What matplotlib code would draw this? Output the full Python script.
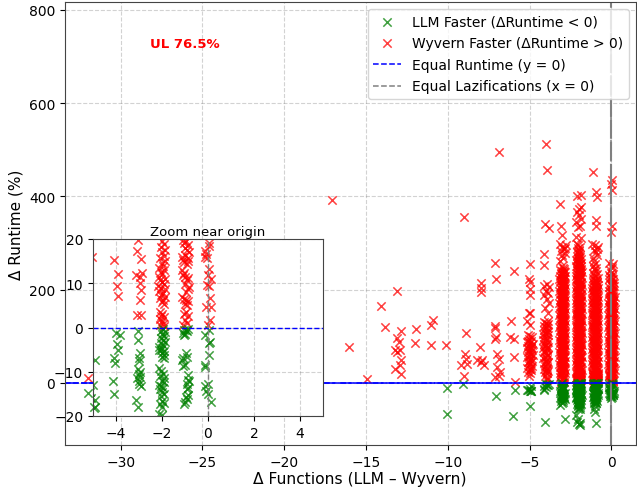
#!/usr/bin/env python3
"""
Delta runtime vs delta functions scatter, with a zoom inset near the origin
"""

import matplotlib
matplotlib.use("Agg")
import matplotlib.pyplot as plt

# (delta functions with jitter, delta runtime %)
red_sparse = [
    (-32.0, 11), (-17.1, 393), (-16.06, 77), (-14.96, 8), (-14.08, 166), (-13.84, 119),
    (-13.1, 198), (-12.86, 111), (-13.1, 96), (-13.0, 88), (-13.2, 70), (-12.95, 70),
    (-13.1, 66), (-12.86, 49), (-12.95, 38), (-13.2, 29), (-12.86, 20), (-11.94, 115),
    (-12.0, 86), (-11.04, 124), (-10.9, 136), (-11.04, 81), (-10.1, 81), (-8.9, 107),
    (-8.94, 62), (-8.9, 52), (-9.2, 38), (-8.84, 41), (-9.04, 16), (-9.04, 357),
    (-7.96, 215), (-7.96, 204), (-8.0, 195), (-8.02, 77), (-8.2, 49), (-8.0, 45),
    (-7.8, 39), (-7.9, 49), (-7.14, 258), (-7.06, 222), (-6.9, 495), (-7.1, 122),
    (-7.14, 118), (-7.04, 99), (-7.14, 95), (-7.0, 63), (-6.9, 52), (-7.0, 34),
    (-6.8, 24), (-7.1, 13), (-6.9, 16), (-5.94, 240), (-6.14, 133), (-6.18, 99),
    (-5.98, 95), (-5.98, 56), (-5.88, 2), (-4.0, 512), (-3.94, 456), (-4.04, 342),
    (-3.84, 332), (-4.1, 277), (-4.14, 252),
]
red_col5 = [
    (-5.0, 256), (-5.06, 222), (-4.96, 217), (-5.0, 202), (-4.96, 188), (-5.06, 151),
    (-4.96, 149), (-5.16, 133), (-4.96, 124), (-5.13, 102), (-4.97, 100), (-4.84, 98),
    (-5.06, 94), (-4.9, 91), (-5.16, 88), (-5.0, 86), (-4.82, 84), (-5.1, 80),
    (-4.93, 78), (-5.18, 75), (-5.03, 72), (-4.86, 70), (-5.12, 66), (-4.95, 64),
    (-4.82, 61), (-5.06, 58), (-5.16, 55), (-4.9, 53), (-5.0, 49), (-4.84, 47),
    (-5.13, 44), (-4.97, 42), (-5.06, 38), (-4.88, 36), (-5.14, 33), (-5.0, 30),
    (-4.92, 27), (-5.08, 24), (-4.97, 21), (-5.03, 16), (-4.93, 33), (-5.05, 47),
    (-4.92, 60), (-5.01, 68), (-4.91, 74), (-5.08, 90), (-4.88, 82),
]
red_col4 = [
    (-3.95, 213), (-4.1, 208), (-3.82, 205), (-3.98, 198), (-3.85, 192), (-4.12, 188),
    (-3.95, 180), (-3.82, 172), (-4.05, 160), (-3.9, 150), (-4.1, 131), (-3.9, 133),
    (-4.0, 128), (-3.86, 126), (-4.14, 122), (-4.03, 120), (-3.92, 118), (-4.1, 114),
    (-3.97, 112), (-3.85, 110), (-4.16, 106), (-4.03, 104), (-3.9, 102), (-4.1, 98),
    (-3.97, 96), (-4.18, 92), (-4.05, 90), (-3.87, 88), (-4.12, 84), (-3.99, 82),
    (-3.86, 78), (-4.16, 76), (-4.03, 74), (-3.92, 70), (-4.13, 66), (-3.99, 64),
    (-3.87, 60), (-4.08, 56), (-4.18, 54), (-3.95, 52), (-4.03, 48), (-3.88, 45),
    (-4.12, 42), (-3.97, 40), (-4.06, 36), (-3.92, 33), (-4.14, 31), (-4.0, 28),
    (-3.88, 25), (-4.08, 23), (-3.97, 21), (-4.07, 15.3), (-3.93, 12.1), (-3.96, 9.4),
    (-3.93, 7.2), (-3.95, 124), (-4.06, 108), (-3.94, 92), (-4.06, 80), (-3.94, 76),
    (-4.06, 68), (-3.92, 57), (-4.0, 44), (-3.95, 28),
]
red_col3 = [
    (-3.06, 19.8), (-3.09, 17.4), (-2.91, 15.4), (-3.12, 11.9), (-2.88, 12.3), (-2.96, 11.5),
    (-2.96, 10), (-2.92, 8.5), (-2.94, 6.2), (-3.09, 2.8), (-2.9, 2.8),
    (-3.16, 21), (-3.01, 23), (-2.84, 22), (-3.08, 27), (-2.92, 29), (-2.81, 28),
    (-3.13, 34), (-2.97, 36), (-2.88, 35), (-3.19, 41), (-3.04, 43), (-2.9, 42),
    (-3.16, 47), (-3.01, 49), (-2.84, 48), (-3.08, 54), (-2.92, 56), (-2.81, 55),
    (-3.13, 60), (-2.97, 62), (-2.88, 61), (-3.19, 67), (-3.04, 69), (-2.9, 68),
    (-3.16, 73), (-3.01, 75), (-2.84, 74), (-3.08, 80), (-2.92, 82), (-2.81, 81),
    (-3.13, 86), (-2.97, 88), (-2.88, 87), (-3.19, 93), (-3.04, 95), (-2.9, 94),
    (-3.16, 99), (-3.01, 101), (-2.84, 100), (-3.08, 106), (-2.92, 108), (-2.81, 107),
    (-3.13, 112), (-2.97, 114), (-2.88, 113), (-3.19, 119), (-3.04, 121), (-2.9, 120),
    (-3.16, 125), (-3.01, 127), (-2.84, 126), (-3.08, 132), (-2.92, 134), (-2.81, 133),
    (-3.13, 138), (-2.97, 140), (-2.88, 139), (-3.19, 145), (-3.04, 147), (-2.9, 146),
    (-3.16, 151), (-3.01, 153), (-2.84, 152), (-3.08, 158), (-2.92, 160), (-2.81, 159),
    (-3.13, 164), (-2.97, 166), (-2.88, 165), (-3.19, 171), (-3.04, 173), (-2.9, 172),
    (-3.16, 177), (-3.01, 179), (-2.84, 178), (-3.08, 184), (-2.92, 186), (-2.81, 185),
    (-3.13, 190), (-2.97, 192), (-2.88, 191), (-3.19, 197), (-3.04, 199), (-2.9, 198),
    (-3.16, 203), (-3.01, 205), (-2.84, 204), (-3.08, 210), (-2.92, 212), (-2.81, 211),
    (-3.13, 216), (-2.97, 218), (-2.88, 217), (-3.19, 223), (-3.04, 225), (-2.9, 224),
    (-3.16, 229), (-3.01, 231), (-2.84, 230), (-3.08, 236), (-2.92, 238), (-2.81, 237),
    (-3.13, 243), (-2.97, 246), (-2.88, 244), (-3.15, 262), (-2.95, 268), (-3.05, 275),
    (-2.82, 278), (-3.1, 283), (-2.9, 287), (-3.0, 292), (-2.8, 295), (-3.15, 298),
    (-2.85, 290), (-3.0, 317), (-3.1, 337), (-3.12, 383),
]
red_fill3 = [
    (-3.1, 24), (-2.94, 25), (-3.04, 31), (-2.9, 32), (-3.1, 38), (-2.96, 39),
    (-3.05, 44), (-2.88, 45), (-3.1, 51), (-2.95, 52), (-3.04, 57), (-2.89, 58),
    (-3.1, 64), (-2.96, 65), (-3.05, 70), (-2.88, 71), (-3.1, 77), (-2.95, 78),
    (-3.04, 83), (-2.89, 84), (-3.1, 90), (-2.96, 91), (-3.05, 96), (-2.88, 97),
    (-3.1, 103), (-2.95, 104), (-3.04, 109), (-2.89, 110), (-3.1, 116), (-2.96, 117),
    (-3.05, 122), (-2.88, 123), (-3.1, 129), (-2.95, 130), (-3.04, 135), (-2.89, 136),
    (-3.1, 142), (-2.96, 143), (-3.05, 148), (-2.88, 149), (-3.1, 155), (-2.95, 156),
    (-3.04, 161), (-2.89, 162), (-3.1, 168), (-2.96, 169), (-3.05, 174), (-2.88, 175),
    (-3.1, 181), (-2.95, 182), (-3.04, 187), (-2.89, 188), (-3.1, 194), (-2.96, 195),
    (-3.05, 200), (-2.88, 201), (-3.1, 207), (-2.95, 208), (-3.04, 213), (-2.89, 214),
    (-3.1, 220), (-2.96, 221), (-3.05, 226), (-2.88, 227), (-3.1, 233), (-2.95, 234),
    (-3.04, 240), (-2.93, 241), (-3.0, 251),
]
red_col2 = [
    (-2.0, 19.6), (-1.9, 18.9), (-2.03, 18.2), (-1.85, 17.5), (-2.0, 17), (-1.93, 16.2),
    (-2.1, 15.6), (-1.88, 15), (-2.02, 14.5), (-1.95, 14), (-2.12, 13.4), (-1.9, 13),
    (-2.05, 12.5), (-1.98, 12), (-2.15, 11.5), (-1.85, 11), (-2.08, 10.7), (-2.0, 10.2),
    (-1.92, 9.8), (-2.17, 9.4), (-2.05, 9), (-1.88, 8.6), (-2.12, 8.2), (-1.97, 7.8),
    (-2.03, 7.4), (-1.85, 7), (-2.1, 6.6), (-1.95, 6.2), (-2.0, 5.7), (-1.9, 5.2),
    (-2.08, 3.4), (-1.98, 3.1), (-2.05, 2.6), (-1.93, 2.4), (-2.1, 2.0), (-2.0, 1.4),
    (-1.95, 0.9), (-2.08, 0.5), (-1.9, 0.3),
    (-2.16, 21), (-2.01, 23), (-1.84, 22), (-2.08, 27), (-1.92, 29), (-1.81, 28),
    (-2.13, 34), (-1.97, 36), (-1.88, 35), (-2.19, 41), (-2.04, 43), (-1.9, 42),
    (-2.16, 47), (-2.01, 49), (-1.84, 48), (-2.08, 54), (-1.92, 56), (-1.81, 55),
    (-2.13, 60), (-1.97, 62), (-1.88, 61), (-2.19, 67), (-2.04, 69), (-1.9, 68),
    (-2.16, 73), (-2.01, 75), (-1.84, 74), (-2.08, 80), (-1.92, 82), (-1.81, 81),
    (-2.13, 86), (-1.97, 88), (-1.88, 87), (-2.19, 93), (-2.04, 95), (-1.9, 94),
    (-2.16, 99), (-2.01, 101), (-1.84, 100), (-2.08, 106), (-1.92, 108), (-1.81, 107),
    (-2.13, 112), (-1.97, 114), (-1.88, 113), (-2.19, 119), (-2.04, 121), (-1.9, 120),
    (-2.16, 125), (-2.01, 127), (-1.84, 126), (-2.08, 132), (-1.92, 134), (-1.81, 133),
    (-2.13, 138), (-1.97, 140), (-1.88, 139), (-2.19, 145), (-2.04, 147), (-1.9, 146),
    (-2.16, 151), (-2.01, 153), (-1.84, 152), (-2.08, 158), (-1.92, 160), (-1.81, 159),
    (-2.13, 164), (-1.97, 166), (-1.88, 165), (-2.19, 171), (-2.04, 173), (-1.9, 172),
    (-2.16, 177), (-2.01, 179), (-1.84, 178), (-2.08, 184), (-1.92, 186), (-1.81, 185),
    (-2.13, 190), (-1.97, 192), (-1.88, 191), (-2.19, 197), (-2.04, 199), (-1.9, 198),
    (-2.16, 203), (-2.01, 205), (-1.84, 204), (-2.08, 210), (-1.92, 212), (-1.81, 211),
    (-2.13, 216), (-1.97, 218), (-1.88, 217), (-2.19, 223), (-2.04, 225), (-1.9, 224),
    (-2.16, 229), (-2.01, 231), (-1.84, 230), (-2.08, 236), (-1.92, 238), (-1.81, 237),
    (-2.13, 243), (-1.97, 245), (-1.88, 244), (-2.15, 250), (-2.0, 252), (-1.84, 251),
    (-2.12, 257), (-1.96, 259), (-1.86, 258), (-2.15, 264), (-2.02, 266), (-1.88, 265),
    (-2.08, 272), (-1.94, 274), (-2.12, 280), (-1.96, 282), (-2.06, 290), (-1.9, 292),
    (-2.08, 299), (-2.14, 313), (-1.86, 310), (-2.16, 345), (-1.9, 337), (-2.06, 335),
    (-1.84, 352), (-1.96, 360), (-2.1, 367), (-1.86, 377), (-1.98, 374), (-2.1, 401),
    (-1.84, 404),
]
red_fill2 = [
    (-2.1, 24), (-1.94, 25), (-2.04, 31), (-1.9, 32), (-2.1, 38), (-1.96, 39),
    (-2.05, 44), (-1.88, 45), (-2.1, 51), (-1.95, 52), (-2.04, 57), (-1.89, 58),
    (-2.1, 64), (-1.96, 65), (-2.05, 70), (-1.88, 71), (-2.1, 77), (-1.95, 78),
    (-2.04, 83), (-1.89, 84), (-2.1, 90), (-1.96, 91), (-2.05, 96), (-1.88, 97),
    (-2.1, 103), (-1.95, 104), (-2.04, 109), (-1.89, 110), (-2.1, 116), (-1.96, 117),
    (-2.05, 122), (-1.88, 123), (-2.1, 129), (-1.95, 130), (-2.04, 135), (-1.89, 136),
    (-2.1, 142), (-1.96, 143), (-2.05, 148), (-1.88, 149), (-2.1, 155), (-1.95, 156),
    (-2.04, 161), (-1.89, 162), (-2.1, 168), (-1.96, 169), (-2.05, 174), (-1.88, 175),
    (-2.1, 181), (-1.95, 182), (-2.04, 187), (-1.89, 188), (-2.1, 194), (-1.96, 195),
    (-2.05, 200), (-1.88, 201), (-2.1, 207), (-1.95, 208), (-2.04, 213), (-1.89, 214),
    (-2.1, 220), (-1.96, 221), (-2.05, 226), (-1.88, 227), (-2.1, 233), (-1.95, 234),
    (-2.04, 240), (-1.9, 241), (-2.08, 247), (-1.94, 248), (-2.03, 254), (-1.9, 255),
    (-2.08, 261), (-1.96, 262), (-2.03, 269), (-1.93, 270), (-2.06, 277), (-1.96, 278),
    (-2.0, 286), (-2.02, 295),
]
red_col1 = [
    (-1.1, 19.8), (-0.95, 19.6), (-1.05, 19), (-0.85, 18.6), (-1.02, 18), (-0.9, 17.6),
    (-0.82, 17), (-1.12, 15.9), (-1.0, 16.3), (-0.88, 15.7), (-1.1, 15.2), (-1.03, 14.8),
    (-0.92, 14.4), (-0.85, 15), (-1.15, 12.9), (-1.05, 12.4), (-1.08, 11.8), (-1.0, 11.4),
    (-0.85, 11.2), (-0.9, 10.8), (-0.98, 9.8), (-0.82, 9.2), (-0.88, 8.6), (-0.95, 8),
    (-1.12, 6.8), (-1.05, 6.4), (-0.95, 6.2), (-0.85, 5.9), (-1.0, 5.4), (-0.9, 5),
    (-0.95, 3.4), (-1.05, 3.0), (-0.88, 2.5), (-1.0, 1.7), (-0.92, 1.0), (-1.08, 0.5),
    (-1.16, 21), (-1.01, 23), (-0.84, 22), (-1.08, 27), (-0.92, 29), (-0.81, 28),
    (-1.13, 34), (-0.97, 36), (-0.88, 35), (-1.19, 41), (-1.04, 43), (-0.9, 42),
    (-1.16, 47), (-1.01, 49), (-0.84, 48), (-1.08, 54), (-0.92, 56), (-0.81, 55),
    (-1.13, 60), (-0.97, 62), (-0.88, 61), (-1.19, 67), (-1.04, 69), (-0.9, 68),
    (-1.16, 73), (-1.01, 75), (-0.84, 74), (-1.08, 80), (-0.92, 82), (-0.81, 81),
    (-1.13, 86), (-0.97, 88), (-0.88, 87), (-1.19, 93), (-1.04, 95), (-0.9, 94),
    (-1.16, 99), (-1.01, 101), (-0.84, 100), (-1.08, 106), (-0.92, 108), (-0.81, 107),
    (-1.13, 112), (-0.97, 114), (-0.88, 113), (-1.19, 119), (-1.04, 121), (-0.9, 120),
    (-1.16, 125), (-1.01, 127), (-0.84, 126), (-1.08, 132), (-0.92, 134), (-0.81, 133),
    (-1.13, 138), (-0.97, 140), (-0.88, 139), (-1.19, 145), (-1.04, 147), (-0.9, 146),
    (-1.16, 151), (-1.01, 153), (-0.84, 152), (-1.08, 158), (-0.92, 160), (-0.81, 159),
    (-1.13, 164), (-0.97, 166), (-0.88, 165), (-1.19, 171), (-1.04, 173), (-0.9, 172),
    (-1.16, 177), (-1.01, 179), (-0.84, 178), (-1.08, 184), (-0.92, 186), (-0.81, 185),
    (-1.13, 190), (-0.97, 192), (-0.88, 191), (-1.19, 197), (-1.04, 199), (-0.9, 198),
    (-1.16, 203), (-1.01, 205), (-0.84, 204), (-1.08, 210), (-0.92, 212), (-0.81, 211),
    (-1.13, 216), (-0.97, 218), (-0.88, 217), (-1.15, 225), (-1.0, 228), (-0.85, 226),
    (-1.1, 236), (-0.94, 240), (-1.15, 250), (-0.98, 256), (-1.12, 267), (-0.92, 281),
    (-1.08, 285), (-0.9, 288), (-0.82, 292), (-0.98, 295), (-1.18, 299), (-0.96, 337),
    (-0.96, 349), (-0.86, 399), (-0.92, 410), (-1.12, 452),
]
red_fill1 = [
    (-1.1, 24), (-0.94, 25), (-1.04, 31), (-0.9, 32), (-1.1, 38), (-0.96, 39),
    (-1.05, 44), (-0.88, 45), (-1.1, 51), (-0.95, 52), (-1.04, 57), (-0.89, 58),
    (-1.1, 64), (-0.96, 65), (-1.05, 70), (-0.88, 71), (-1.1, 77), (-0.95, 78),
    (-1.04, 83), (-0.89, 84), (-1.1, 90), (-0.96, 91), (-1.05, 96), (-0.88, 97),
    (-1.1, 103), (-0.95, 104), (-1.04, 109), (-0.89, 110), (-1.1, 116), (-0.96, 117),
    (-1.05, 122), (-0.88, 123), (-1.1, 129), (-0.95, 130), (-1.04, 135), (-0.89, 136),
    (-1.1, 142), (-0.96, 143), (-1.05, 148), (-0.88, 149), (-1.1, 155), (-0.95, 156),
    (-1.04, 161), (-0.89, 162), (-1.1, 168), (-0.96, 169), (-1.05, 174), (-0.88, 175),
    (-1.1, 181), (-0.95, 182), (-1.04, 187), (-0.89, 188), (-1.1, 194), (-0.96, 195),
    (-1.05, 200), (-0.88, 201), (-1.1, 207), (-0.95, 208), (-1.04, 213), (-0.89, 214),
    (-1.08, 220), (-0.92, 220), (-1.04, 232), (-0.9, 234), (-1.08, 244), (-0.94, 246),
    (-1.04, 262), (-0.88, 275),
]
red_col0 = [
    (0.03, 19.2), (-0.1, 16.5), (-0.03, 15.7), (-0.15, 16), (0.03, 13.3), (0.12, 11),
    (-0.05, 9.6), (0.07, 6.6), (-0.1, 4.7), (0.12, 4.7), (0.1, 1.7), (-0.02, 0.6),
    (0.05, 18.4), (-0.12, 17.3), (0.0, 11.9), (0.06, 9.3),
    (-0.16, 21), (-0.01, 23), (0.16, 22), (-0.08, 27), (0.08, 29), (0.19, 28),
    (-0.13, 34), (0.03, 36), (0.12, 35), (-0.19, 41), (-0.04, 43), (0.1, 42),
    (-0.16, 47), (-0.01, 49), (0.16, 48), (-0.08, 54), (0.08, 56), (0.19, 55),
    (-0.13, 60), (0.03, 62), (0.12, 61), (-0.19, 67), (-0.04, 69), (0.1, 68),
    (-0.16, 73), (-0.01, 75), (0.16, 74), (-0.08, 80), (0.08, 82), (0.19, 81),
    (-0.13, 86), (0.03, 88), (0.12, 87), (-0.19, 93), (-0.04, 95), (0.1, 94),
    (-0.16, 99), (-0.01, 101), (0.16, 100), (-0.08, 106), (0.08, 108), (0.19, 107),
    (-0.13, 112), (0.03, 114), (0.12, 113), (-0.19, 119), (-0.04, 121), (0.1, 120),
    (-0.16, 125), (-0.01, 127), (0.16, 126), (-0.08, 132), (0.08, 134), (0.19, 133),
    (-0.13, 138), (0.03, 140), (0.12, 139), (-0.19, 145), (-0.04, 147), (0.1, 146),
    (-0.16, 151), (-0.01, 153), (0.16, 152), (-0.08, 158), (0.08, 160), (0.19, 159),
    (-0.13, 164), (0.03, 166), (0.12, 165), (-0.19, 171), (-0.04, 173), (0.1, 172),
    (-0.16, 177), (-0.01, 179), (0.16, 178), (-0.08, 184), (0.08, 186), (0.19, 185),
    (-0.13, 190), (0.03, 192), (0.12, 191), (-0.18, 198), (-0.04, 200), (0.1, 199),
    (-0.15, 206), (0.02, 208), (0.15, 207), (-0.09, 214), (0.08, 216), (0.16, 215),
    (-0.12, 222), (0.04, 224), (0.11, 223), (-0.15, 232), (-0.02, 235), (0.09, 233),
    (-0.11, 243), (0.05, 246), (-0.12, 258), (0.09, 256), (0.0, 324), (0.02, 337),
    (0.02, 413), (0.0, 427), (0.04, 436),
]
red_fill0 = [
    (-0.1, 24), (0.06, 25), (-0.04, 31), (0.1, 32), (-0.1, 38), (0.04, 39),
    (-0.05, 44), (0.12, 45), (-0.1, 51), (0.05, 52), (-0.04, 57), (0.11, 58),
    (-0.1, 64), (0.04, 65), (-0.05, 70), (0.12, 71), (-0.1, 77), (0.05, 78),
    (-0.04, 83), (0.11, 84), (-0.1, 90), (0.04, 91), (-0.05, 96), (0.12, 97),
    (-0.1, 103), (0.05, 104), (-0.04, 109), (0.11, 110), (-0.1, 116), (0.04, 117),
    (-0.05, 122), (0.12, 123), (-0.1, 129), (0.05, 130), (-0.04, 135), (0.11, 136),
    (-0.1, 142), (0.04, 143), (-0.05, 148), (0.12, 149), (-0.1, 155), (0.05, 156),
    (-0.04, 161), (0.11, 162), (-0.1, 168), (0.04, 169), (-0.05, 174), (0.12, 175),
    (-0.1, 181), (0.05, 182), (-0.06, 195), (0.08, 196), (-0.05, 211), (0.04, 212),
    (-0.06, 228), (0.06, 228), (0.02, 250),
]

green_sparse = [
    (-32.0, -22), (-31.6, -51), (-31.4, -44), (-10.04, -11), (-10.06, -66), (-9.08, -1.5),
    (-7.06, -28), (-6.04, -71), (-5.88, -14), (-4.96, -49), (-5.1, -16), (-4.9, -18),
    (-5.0, -13), (-4.04, -84), (-4.1, -15), (-3.9, -5), (-5.14, -14.5), (-4.9, -7.3),
    (-4.9, -16.3), (-4.97, -18.2),
]
green_col4 = [
    (-4.0, -1.3), (-3.84, -1.8), (-3.96, -3.8), (-4.1, -7), (-4.03, -8), (-4.13, -12),
]
green_col3 = [
    (-3.03, -0.9), (-3.06, -2.8), (-2.94, -5.8), (-3.01, -6.9), (-2.98, -7.6), (-3.05, -9.4),
    (-3.02, -10.6), (-2.94, -10.0), (-3.1, -11.4), (-2.98, -12.2), (-2.92, -13.3), (-3.13, -16.3),
    (-3.03, -18), (-3.0, -12.8), (-2.96, -11.2),
    (-3.14, -22), (-2.97, -23), (-2.84, -22), (-3.07, -26), (-2.9, -27), (-3.0, -29),
    (-3.1, -31), (-2.93, -33), (-3.03, -35), (-2.87, -35), (-3.07, -38), (-2.97, -40),
    (-3.12, -48), (-3.05, -44), (-2.86, -78), (-3.05, -21), (-2.92, -24), (-3.0, -25),
    (-3.08, -28), (-2.96, -29), (-2.88, -30), (-3.02, -32), (-2.98, -37),
]
green_col2 = [
    (-1.95, -0.4), (-2.03, -0.8), (-1.88, -1.1), (-1.98, -1.5), (-1.92, -2), (-2.05, -2.4),
    (-1.97, -2.9), (-1.88, -3.2), (-2.03, -3.6), (-1.95, -4), (-2.12, -4.4), (-1.98, -4.7),
    (-2.05, -5), (-1.9, -5.3), (-2.15, -5.1), (-2.0, -5.8), (-1.93, -6.2), (-2.02, -6.7),
    (-1.9, -7), (-2.12, -9.2), (-2.05, -9.8), (-1.95, -10.6), (-2.1, -10.9), (-1.9, -11.3),
    (-2.0, -12), (-1.92, -12.4), (-2.15, -13), (-2.05, -13.3), (-1.95, -13.7), (-2.1, -14),
    (-2.0, -14.5), (-1.92, -15), (-2.05, -15.5), (-2.0, -16.6), (-1.9, -17), (-2.08, -17.4),
    (-2.0, -18), (-2.12, -19.6), (-1.98, -19.8),
    (-2.15, -21), (-2.0, -22), (-1.85, -21), (-2.08, -25), (-1.93, -26), (-1.83, -25),
    (-2.14, -29), (-1.98, -30), (-1.88, -29), (-2.16, -33), (-2.04, -34), (-1.9, -33),
    (-2.12, -37), (-2.0, -38), (-1.86, -37), (-2.07, -41), (-1.94, -42), (-2.11, -45),
    (-1.98, -46), (-1.88, -45), (-2.04, -50), (-1.93, -51), (-2.03, -55), (-1.9, -56),
    (-2.14, -69), (-2.05, -78), (-2.0, -87), (-1.9, -91), (-1.95, -85), (-2.08, -83),
    (-2.07, -23), (-1.96, -24), (-1.88, -23), (-2.04, -27), (-1.97, -28), (-2.1, -31),
    (-2.02, -32), (-1.93, -31), (-2.07, -35), (-1.97, -36), (-1.9, -39), (-2.04, -40),
    (-2.0, -43), (-2.07, -47), (-1.94, -48), (-2.0, -53),
]
green_col1 = [
    (-1.05, -0.5), (-0.95, -0.6), (-1.1, -1.2), (-1.0, -1.5), (-0.9, -0.9), (-0.85, -0.3),
    (-1.05, -1.6), (-0.95, -5.8), (-1.08, -6.8), (-0.92, -6.7), (-1.12, -7.3), (-1.0, -8.5),
    (-1.08, -8.8), (-0.85, -10.8), (-0.88, -11.8), (-0.82, -12), (-0.9, -12.7), (-0.85, -13.7),
    (-0.92, -14), (-0.88, -15.2), (-0.95, -15.6), (-0.9, -16.2), (-1.0, -16.8), (-1.05, -17.3),
    (-1.14, -21), (-0.98, -22), (-0.85, -21), (-1.07, -25), (-0.92, -26), (-0.84, -25),
    (-1.12, -29), (-0.97, -30), (-0.88, -29), (-1.07, -34), (-0.93, -35), (-1.02, -38),
    (-0.89, -39), (-1.08, -43), (-0.96, -44), (-1.08, -55), (-1.0, -50), (-0.92, -85),
    (-1.02, -62), (-1.07, -23), (-0.93, -24), (-1.03, -27), (-0.96, -28), (-1.05, -31),
    (-0.92, -32), (-1.0, -33), (-1.04, -36), (-0.97, -37), (-1.03, -41), (-0.93, -42),
]
green_col0 = [
    (-0.12, -1.8), (0.06, -0.5), (0.07, -3.2), (0.03, -3.4), (0.03, -6.2), (-0.15, -8.4),
    (-0.12, -9), (0.0, -12.8), (-0.15, -13.3), (-0.1, -14.4), (-0.02, -15), (0.13, -16.8),
    (-0.15, -21), (0.02, -22), (0.14, -21), (-0.08, -24), (0.08, -25), (-0.04, -28),
    (0.05, -29), (-0.02, -33), (-0.1, -27), (0.11, -26), (-0.05, -21), (0.07, -21),
    (0.0, -25), (-0.06, -23), (0.09, -23),
]

xlim_main = [-33.4, 1.5]
ylim_main = [-133, 817]
xticks_main = [-30, -25, -20, -15, -10, -5, 0]
yticks_main = [0, 200, 400, 600, 800]
xlim_zoom = [-5, 5]
ylim_zoom = [-20, 20]
xticks_zoom = [-4, -2, 0, 2, 4]
yticks_zoom = [-20, -10, 0, 10, 20]

red_points = (red_sparse + red_col5 + red_col4 + red_col3 + red_fill3 + red_col2 + red_fill2
              + red_col1 + red_fill1 + red_col0 + red_fill0)
green_points = green_sparse + green_col4 + green_col3 + green_col2 + green_col1 + green_col0
red_x, red_y = zip(*red_points)
green_x, green_y = zip(*green_points)


def draw_points(ax, label=True):
    ax.scatter(green_x, green_y, marker='x', c='green', s=36, linewidths=1.1, alpha=0.75,
               zorder=1.5, label='LLM Faster (ΔRuntime < 0)' if label else None)
    ax.scatter(red_x, red_y, marker='x', c='red', s=36, linewidths=1.1, alpha=0.75,
               zorder=1, label='Wyvern Faster (ΔRuntime > 0)' if label else None)


W, H = 637, 489
fig = plt.figure(figsize=(W / 100, H / 100), dpi=100)

# Main plot
ax = fig.add_axes([65 / W, 1 - 446 / H, 571 / W, 443 / H])
draw_points(ax)
ax.axhline(0, color='blue', linestyle='--', linewidth=1.1, label='Equal Runtime (y = 0)')
ax.axvline(0, color='gray', linestyle='--', linewidth=1.1, label='Equal Lazifications (x = 0)')
# the lines look nearly solid in the picture, only a few gaps are left
ax.axhline(0, color='blue', linestyle=(0, (9, 1.5)), linewidth=1.1)
ax.axvline(0, color='gray', linestyle=(0, (9, 1.5)), linewidth=1.5)
ax.set_xlim(xlim_main)
ax.set_ylim(ylim_main)
ax.set_xticks(xticks_main)
ax.set_yticks(yticks_main)
ax.tick_params(labelsize=10)
ax.set_xlabel('Δ Functions (LLM – Wyvern)', fontsize=11.2, labelpad=2, x=0.517)
ax.set_ylabel('Δ Runtime (%)', fontsize=11, labelpad=4)
ax.grid(True, linestyle='--', color='gray', alpha=0.35, linewidth=0.8)
ax.set_axisbelow(True)
for side in ax.spines:
    ax.spines[side].set_color('#444444')
ax.text(0.149, 0.907, 'UL 76.5%', transform=ax.transAxes, color='red', fontsize=9.5,
        fontweight='bold', va='center')
ax.legend(loc='upper right', fontsize=10, framealpha=0.8, labelspacing=0.55)

# Zoom inset
axins = fig.add_axes([93 / W, 1 - 417 / H, 230 / W, 177 / H])
draw_points(axins, label=False)
axins.axhline(0, color='blue', linestyle='--', linewidth=1)
axins.axvline(0, color='gray', linestyle='--', linewidth=1)
axins.set_xlim(xlim_zoom)
axins.set_ylim(ylim_zoom)
axins.set_xticks(xticks_zoom)
axins.set_yticks(yticks_zoom)
axins.tick_params(labelsize=10)
axins.grid(True, linestyle='--', color='gray', alpha=0.35, linewidth=0.8)
axins.set_axisbelow(True)
axins.set_title('Zoom near origin', fontsize=9.5, pad=3)
for side in axins.spines:
    axins.spines[side].set_color('#444444')

fig.savefig('out.png', dpi=100)
